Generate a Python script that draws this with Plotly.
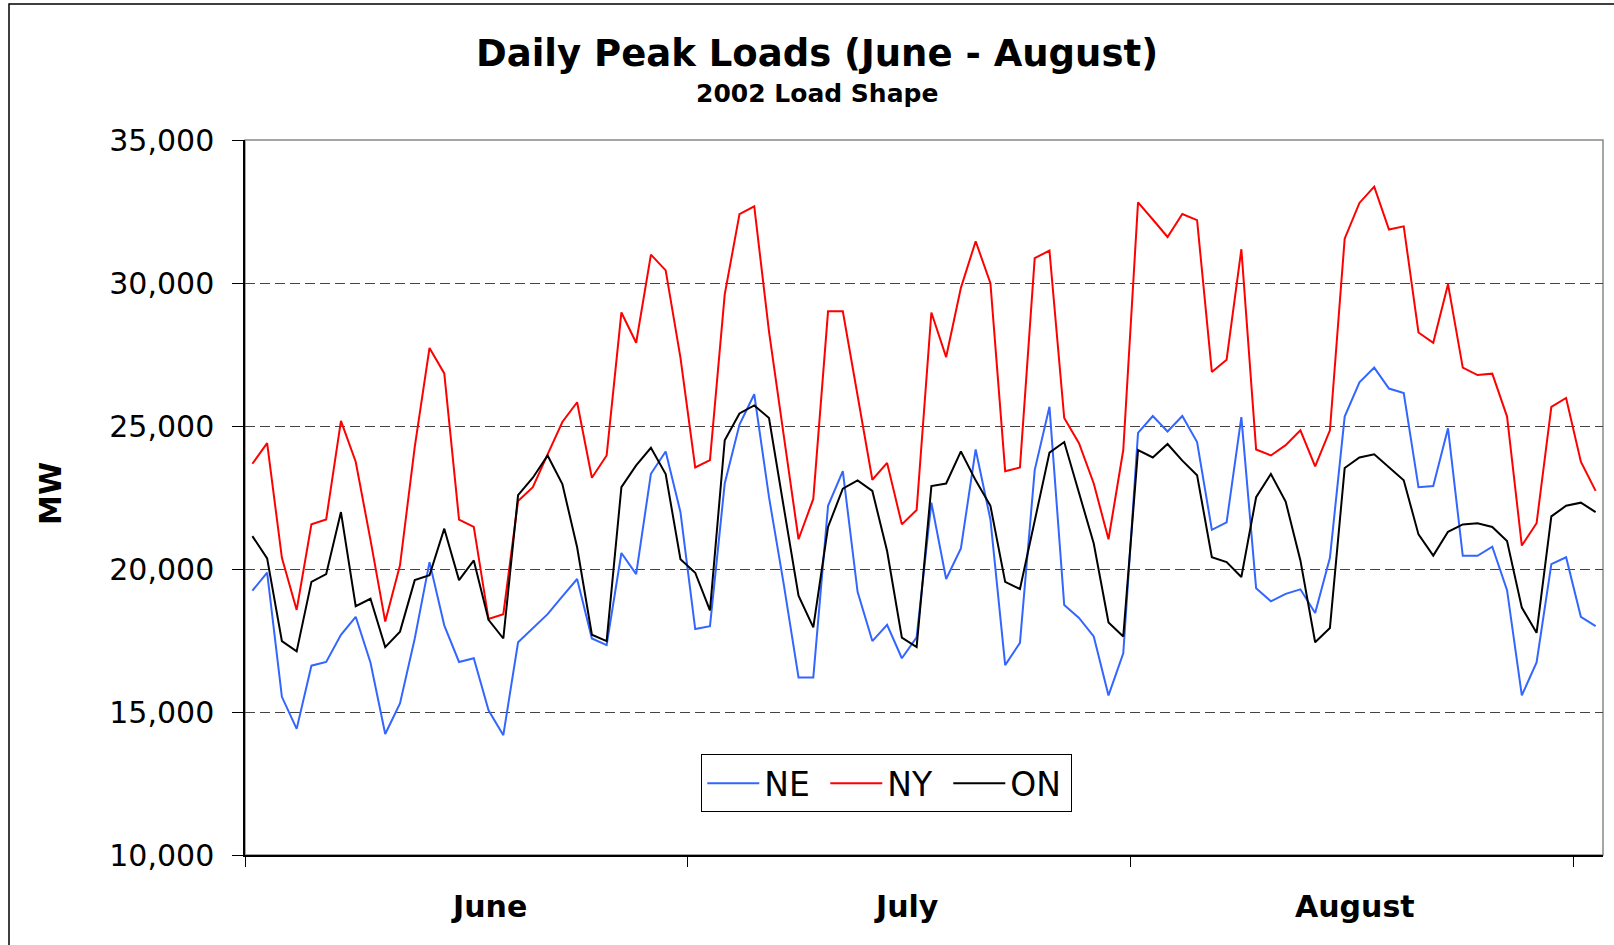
import plotly.graph_objects as go

# daily peak loads, June 1 - August 31 2002 (MW)
ne = [19240, 19870, 15530, 14410, 16620, 16750, 17700, 18330, 16730, 14230,
      15300, 17570, 20240, 18030, 16750, 16880, 15060, 14190, 17440, 17920,
      18420, 19040, 19650, 17570, 17340, 20560, 19820, 23330, 24110, 21990,
      17900, 18000, 22990, 25050, 26110, 22510, 19460, 16210, 16210, 22210,
      23420, 19200, 17480, 18050, 16880, 17610, 22320, 19650, 20720, 24180,
      21730, 16640, 17420, 23460, 25670, 18740, 18290, 17640, 15580, 17050,
      24760, 25350, 24810, 25350, 24440, 21370, 21630, 25310, 19330, 18870,
      19130, 19290, 18460, 20390, 25330, 26530, 27040, 26310, 26150, 22860,
      22900, 24920, 20460, 20460, 20780, 19260, 15580, 16730, 20170, 20410,
      18330, 18000]

ny = [23680, 24400, 20390, 18570, 21560, 21730, 25180, 23750, 21020, 18160,
      20130, 24270, 27730, 26840, 21730, 21470, 18250, 18420, 22380, 22860,
      24010, 25140, 25830, 23190, 23970, 28970, 27910, 30990, 30440, 27390,
      23550, 23810, 29600, 32410, 32680, 28300, 24660, 21040, 22450, 29010,
      29010, 26090, 23120, 23710, 21560, 22060, 28970, 27410, 29830, 31460,
      29990, 23420, 23550, 30870, 31130, 25280, 24400, 22990, 21040, 24160,
      32820, 32220, 31610, 32410, 32200, 26890, 27320, 31180, 24180, 23970,
      24330, 24850, 23590, 24850, 31550, 32800, 33370, 31870, 31980, 28270,
      27910, 29960, 27040, 26780, 26830, 25330, 20820, 21600, 25670, 25980,
      23750, 22730]

on = [21150, 20370, 17480, 17120, 19550, 19820, 21990, 18700, 18960, 17270,
      17810, 19610, 19780, 21410, 19610, 20300, 18220, 17570, 22580, 23190,
      23970, 22970, 20760, 17700, 17480, 22860, 23620, 24240, 23320, 20340,
      19870, 18550, 24500, 25440, 25720, 25280, 22160, 19070, 17960, 21470,
      22810, 23100, 22730, 20630, 17600, 17270, 22900, 22990, 24110, 23100,
      22210, 19550, 19300, 21670, 24070, 24440, 22710, 20890, 18130, 17640,
      24160, 23900, 24370, 23790, 23280, 20410, 20240, 19720, 22510, 23320,
      22360, 20300, 17440, 17940, 23530, 23900, 24010, 23550, 23100, 21210,
      20470, 21300, 21560, 21600, 21470, 20980, 18650, 17770, 21840, 22210,
      22320, 21990]

months = ["June", "July", "August"]
month_pos = [16.0, 44.3, 74.7]

days = list(range(len(ny)))

fig = go.Figure()
fig.add_trace(go.Scatter(x=days, y=ne, mode="lines", name="NE",
                         line=dict(color="#3366FF", width=2)))
fig.add_trace(go.Scatter(x=days, y=ny, mode="lines", name="NY",
                         line=dict(color="#FF0000", width=2)))
fig.add_trace(go.Scatter(x=days, y=on, mode="lines", name="ON",
                         line=dict(color="#000000", width=2)))

fig.update_layout(
    width=1614, height=945,
    margin=dict(l=245, r=11, t=140, b=90),
    paper_bgcolor="white", plot_bgcolor="white",
    font=dict(family="DejaVu Sans", color="black"),
    showlegend=True,
    legend=dict(orientation="h", x=0.336, y=0.141, xanchor="left", yanchor="top",
                bordercolor="black", borderwidth=1, bgcolor="white",
                font=dict(family="DejaVu Sans", size=33),
                entrywidth=56, entrywidthmode="pixels", itemwidth=52),
)

fig.update_xaxes(range=[-0.5, 91.5], tickvals=[-0.5, 29.5, 59.5, 89.5],
                 showticklabels=False, ticks="outside", ticklen=10, tickcolor="black",
                 showline=True, linecolor="black", linewidth=1.5, showgrid=False,
                 zeroline=False)
fig.update_yaxes(range=[10000, 35000], dtick=5000, tickformat=",",
                 ticks="outside", ticklen=11, tickcolor="black",
                 ticklabelstandoff=12,
                 tickfont=dict(family="DejaVu Sans", size=30),
                 showline=True, linecolor="black", linewidth=1.5,
                 showgrid=True, gridcolor="#444444", griddash="10px,5px", gridwidth=1,
                 zeroline=False)

# gray frame around the plot area
fig.add_shape(type="rect", xref="x domain", yref="y domain", x0=0, x1=1, y0=0, y1=1,
              line=dict(color="#888888", width=1.5), layer="below")
# outer chart border
fig.add_shape(type="rect", xref="paper", yref="paper",
              x0=(9 - 245) / 1358, x1=1.2, y0=-0.3, y1=(855 - 4) / 715,
              line=dict(color="black", width=1.5))

fig.add_annotation(text="<b>Daily Peak Loads (June - August)</b>", xref="paper", yref="paper",
                   x=0.421, y=(855 - 54) / 715, xanchor="center", yanchor="middle",
                   showarrow=False, font=dict(size=37))
fig.add_annotation(text="<b>2002 Load Shape</b>", xref="paper", yref="paper",
                   x=0.421, y=(855 - 93) / 715, xanchor="center", yanchor="middle",
                   showarrow=False, font=dict(size=25))
fig.add_annotation(text="<b>MW</b>", xref="paper", yref="paper",
                   x=(51 - 245) / 1358, y=0.505, xanchor="center", yanchor="middle",
                   textangle=-90, showarrow=False, font=dict(size=30))
for m, p in zip(months, month_pos):
    fig.add_annotation(text="<b>" + m + "</b>", xref="x", yref="paper", x=p,
                       y=(855 - 906) / 715, xanchor="center", yanchor="middle",
                       showarrow=False, font=dict(size=30))

fig.write_html("out.html", config={"displayModeBar": False},
               post_script="document.body.style.margin='0px';")
